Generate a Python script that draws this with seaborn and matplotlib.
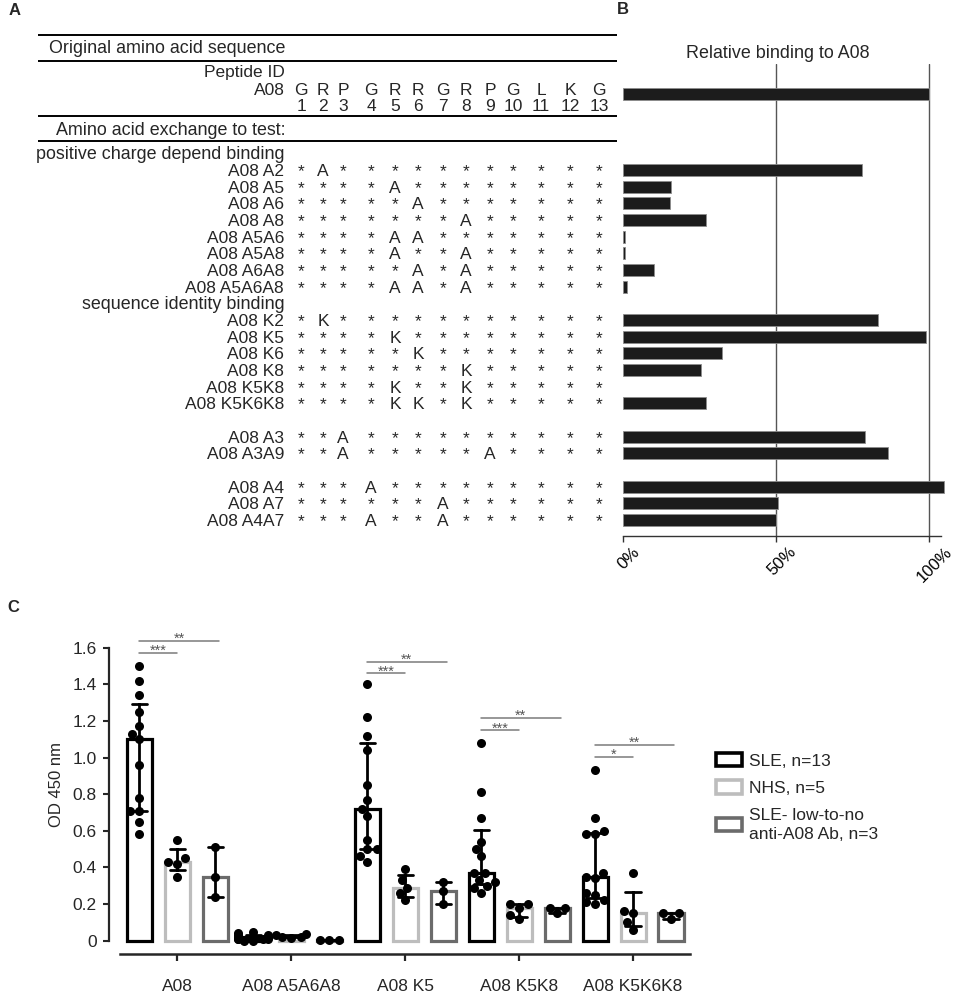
import re
import warnings
import numpy as np
import pandas as pd
import matplotlib
matplotlib.use("Agg")
import matplotlib.pyplot as plt
import matplotlib.transforms as mtransforms
from matplotlib.patches import Patch
import seaborn as sns

warnings.filterwarnings("ignore")

# ------------------------------------------------------------------ data
residues = ["G", "R", "P", "G", "R", "R", "G", "R", "P", "G", "L", "K", "G"]
reference_id = "A08"
reference_binding = 100.0

charge_ids = ["A08 A2", "A08 A5", "A08 A6", "A08 A8", "A08 A5A6", "A08 A5A8", "A08 A6A8", "A08 A5A6A8"]
charge_binding = [78.0, 15.7, 15.5, 27.0, 0.6, 0.6, 10.0, 1.2]
identity_ids = ["A08 K2", "A08 K5", "A08 K6", "A08 K8", "A08 K5K8", "A08 K5K6K8"]
identity_binding = [83.5, 99.0, 32.4, 25.5, np.nan, 27.3]
proline_ids = ["A08 A3", "A08 A3A9"]
proline_binding = [79.3, 86.8]
glycine_ids = ["A08 A4", "A08 A7", "A08 A4A7"]
glycine_binding = [105.0, 50.7, 49.9]
section_titles = ["positive charge depend binding", "sequence identity binding", "", ""]

antigens = ["A08", "A08 A5A6A8", "A08 K5", "A08 K5K8", "A08 K5K6K8"]
groups = ["SLE, n=13", "NHS, n=5", "SLE- low-to-no\nanti-A08 Ab, n=3"]
group_colors = ["#000000", "#bdbdbd", "#6b6b6b"]

sle_a08 = [1.50, 1.42, 1.34, 1.25, 1.17, 1.13, 1.10, 0.96, 0.78, 0.71, 0.71, 0.65, 0.58]
nhs_a08 = [0.55, 0.45, 0.43, 0.42, 0.35]
low_a08 = [0.51, 0.35, 0.24]
sle_a5a6a8 = [0.05, 0.04, 0.03, 0.03, 0.02, 0.02, 0.02, 0.01, 0.01, 0.01, 0.01, 0.00, 0.00]
nhs_a5a6a8 = [0.035, 0.03, 0.02, 0.02, 0.015]
low_a5a6a8 = [0.005, 0.005, 0.005]
sle_k5 = [1.40, 1.22, 1.12, 1.04, 0.85, 0.77, 0.72, 0.68, 0.55, 0.50, 0.50, 0.46, 0.43]
nhs_k5 = [0.39, 0.33, 0.29, 0.26, 0.22]
low_k5 = [0.32, 0.27, 0.20]
sle_k5k8 = [1.08, 0.81, 0.67, 0.54, 0.50, 0.46, 0.37, 0.37, 0.33, 0.32, 0.30, 0.29, 0.26]
nhs_k5k8 = [0.20, 0.20, 0.18, 0.14, 0.12]
low_k5k8 = [0.18, 0.18, 0.15]
sle_k5k6k8 = [0.93, 0.67, 0.60, 0.58, 0.58, 0.37, 0.35, 0.34, 0.26, 0.25, 0.22, 0.21, 0.20]
nhs_k5k6k8 = [0.37, 0.16, 0.15, 0.10, 0.06]
low_k5k6k8 = [0.15, 0.15, 0.12]

sig_antigen = ["A08", "A08", "A08 K5", "A08 K5", "A08 K5K8", "A08 K5K8", "A08 K5K6K8", "A08 K5K6K8"]
sig_target = [1, 2, 1, 2, 1, 2, 1, 2]
sig_height = [1.57, 1.637, 1.46, 1.524, 1.149, 1.215, 1.003, 1.069]
sig_label = ["***", "**", "***", "**", "***", "**", "*", "**"]

# ------------------------------------------------------------------ style
sns.set_style("ticks")
plt.rcParams["font.family"] = ["Liberation Sans", "DejaVu Sans"]
plt.rcParams["axes.linewidth"] = 1.0

W, H = 957, 996
fig = plt.figure(figsize=(W / 100, H / 100), dpi=100)

def fx(px):
    return px / W

def fy(py):
    return 1 - py / H

# ------------------------------------------------------------------ panel A (table, pixel coords)
axA = fig.add_axes([0, 0, 1, 1])
axA.set_xlim(0, W)
axA.set_ylim(H, 0)
axA.axis("off")

FS = 12.5
HFS = 12.9
BASE = 6  # half cap height in px -> baseline offset
col_x = [301, 323, 343, 371, 395, 418, 443, 466, 490, 513, 541, 570, 599]
label_right = 285
row0, row_step = 170.0, 16.67

def row_y(i):
    return row0 + row_step * i

def put(x, y, s, ha="center", **kw):
    axA.text(x, y + BASE, s, ha=ha, va="baseline", fontsize=kw.pop("fontsize", FS), **kw)

for yl in [35, 61, 116, 141]:
    axA.plot([38, 617], [yl, yl], color="black", lw=1.4, solid_capstyle="butt")

put(label_right, 47, "Original amino acid sequence", ha="right", fontsize=HFS)
put(label_right, 71, "Peptide ID", ha="right")
put(label_right, 89, reference_id, ha="right")
for k, r in enumerate(residues):
    put(col_x[k], 89, r)
    put(col_x[k], 105, str(k + 1))
put(label_right + 1, 129, "Amino acid exchange to test:", ha="right", fontsize=HFS)

blocks = [
    (charge_ids, charge_binding),
    (identity_ids, identity_binding),
    (proline_ids, proline_binding),
    (glycine_ids, glycine_binding),
]
bar_rows, bar_vals = [(94.2 - row0) / row_step], [reference_binding]
idx = -1
for (ids, vals), title in zip(blocks, section_titles):
    if title:
        put(label_right, row_y(idx), title, ha="right", fontsize=HFS)
    idx += 1
    for pid, val in zip(ids, vals):
        y = row_y(idx)
        put(label_right - 1, y, pid, ha="right")
        subs = {int(p): a for a, p in re.findall(r"([A-Z])(\d+)", pid.split()[1])}
        for k in range(len(residues)):
            put(col_x[k], y, subs.get(k + 1, "*"))
        if not np.isnan(val):
            bar_rows.append(idx)
            bar_vals.append(val)
        idx += 1

axA.text(15, 10, "A", fontsize=12, fontweight="bold", ha="center", va="center")
axA.text(623, 9, "B", fontsize=12, fontweight="bold", ha="center", va="center")
axA.text(13, 607, "C", fontsize=12, fontweight="bold", ha="center", va="center")
put(778, 52, "Relative binding to A08", fontsize=HFS)

# ------------------------------------------------------------------ panel B
top_px, bot_px = 64, 535.7
axB = fig.add_axes([fx(623), fy(bot_px), fx(941) - fx(623), (bot_px - top_px) / H])
dfB = pd.DataFrame({"row": bar_rows, "binding": bar_vals})
sns.barplot(data=dfB, x="binding", y="row", orient="h", native_scale=True, width=0.72,
            color="#1c1c1c", saturation=1, edgecolor="#8c8c8c", linewidth=0.6,
            errorbar=None, ax=axB)
for p in axB.patches:
    p.set_clip_on(False)
axB.set_xlim(0, 104)
axB.set_ylim((bot_px - row0) / row_step, (top_px - row0) / row_step)
for xv in [50, 100]:
    axB.axvline(xv, color="#555555", lw=1.0, zorder=0)
axB.set_yticks([])
axB.set_ylabel("")
axB.set_xlabel("")
for s in ["left", "right", "top"]:
    axB.spines[s].set_visible(False)
axB.spines["bottom"].set_color("#333333")
axB.set_xticks([0, 50, 100])
axB.set_xticklabels(["0%", "50%", "100%"], rotation=45, ha="center", fontsize=12)
axB.tick_params(axis="x", length=4, width=1, pad=2, colors="#333333", labelcolor="black")
shift = mtransforms.ScaledTranslation(6 / 100, 0, fig.dpi_scale_trans)
for lab in axB.get_xticklabels():
    lab.set_transform(lab.get_transform() + shift)

# ------------------------------------------------------------------ panel C
series = {
    ("A08", 0): sle_a08, ("A08", 1): nhs_a08, ("A08", 2): low_a08,
    ("A08 A5A6A8", 0): sle_a5a6a8, ("A08 A5A6A8", 1): nhs_a5a6a8, ("A08 A5A6A8", 2): low_a5a6a8,
    ("A08 K5", 0): sle_k5, ("A08 K5", 1): nhs_k5, ("A08 K5", 2): low_k5,
    ("A08 K5K8", 0): sle_k5k8, ("A08 K5K8", 1): nhs_k5k8, ("A08 K5K8", 2): low_k5k8,
    ("A08 K5K6K8", 0): sle_k5k6k8, ("A08 K5K6K8", 1): nhs_k5k6k8, ("A08 K5K6K8", 2): low_k5k6k8,
}
hue_offset = [-1 / 3, 0.0, 1 / 3]
recs = []
for (ag, g), vals in series.items():
    for v in vals:
        recs.append({"xpos": antigens.index(ag) + hue_offset[g], "group": groups[g], "od": v})
dfC = pd.DataFrame(recs)

px_per_unit_y = (940.7 - 647.7) / 1.6
ylo, yhi = -0.04, 1.75
c_bot = 940.7 - ylo * px_per_unit_y
c_top = 940.7 - yhi * px_per_unit_y
axC = fig.add_axes([fx(109), fy(c_bot), fx(690) - fx(109), (c_bot - c_top) / H])


def iqr(v):
    return (np.percentile(v, 25, method="weibull"), np.percentile(v, 75, method="weibull"))


sns.barplot(data=dfC, x="xpos", y="od", hue="group", hue_order=groups, palette=group_colors,
            native_scale=True, dodge=False, fill=False, width=0.66, linewidth=2.3,
            estimator="median", errorbar=iqr, capsize=0.4,
            err_kws={"color": "black", "linewidth": 2.0}, legend=False, ax=axC)
sns.swarmplot(data=dfC, x="xpos", y="od", native_scale=True, color="black", size=6.5,
              linewidth=0, ax=axC, zorder=5)
for coll in axC.collections:
    coll.set_clip_on(False)

for ag, tgt, h, lab in zip(sig_antigen, sig_target, sig_height, sig_label):
    i = antigens.index(ag)
    x0 = i + hue_offset[0]
    x1 = i + hue_offset[tgt] + (0.03 if tgt == 2 else 0.0)
    axC.plot([x0, x1], [h, h], color="#7a7a7a", lw=1.1, clip_on=False)
    t = axC.text((x0 + x1) / 2, h, lab, ha="center", va="baseline", fontsize=10.5,
                 color="#555555", clip_on=False)
    t.set_transform(axC.transData + mtransforms.ScaledTranslation(0, -2 / 100, fig.dpi_scale_trans))

axC.set_xlim(-0.6, 4.5)
axC.set_ylim(ylo, yhi)
axC.spines["top"].set_visible(False)
axC.spines["right"].set_visible(False)
axC.spines["left"].set_bounds(0, 1.6)
axC.spines["left"].set_linewidth(1.6)
axC.spines["bottom"].set_bounds(-0.5, 4.5)
axC.spines["bottom"].set_linewidth(1.8)
axC.spines["bottom"].set_position(("outward", 4.3))
yt = np.round(np.arange(0, 1.61, 0.2), 1)
axC.set_yticks(yt)
axC.set_yticklabels(["0"] + [f"{v:.1f}" for v in yt[1:]], fontsize=12.5)
axC.set_xticks(range(len(antigens)))
axC.set_xticklabels(antigens, fontsize=12.5)
axC.tick_params(axis="y", length=4, width=1.5, pad=5)
axC.tick_params(axis="x", length=5, width=1.6, pad=13)
axC.set_xlabel("")
axC.set_ylabel("OD 450 nm", fontsize=12, labelpad=6)

handles = [Patch(facecolor="none", edgecolor=c, linewidth=2.6) for c in group_colors]
leg = fig.legend(handles, groups, loc="upper left", bbox_to_anchor=(fx(716), fy(753)),
                 frameon=False, fontsize=12.5, handlelength=1.5, handleheight=0.8,
                 handletextpad=0.4, labelspacing=0.68, borderpad=0, borderaxespad=0)
for t in leg.get_texts():
    t.set_linespacing(1.3)

fig.savefig("out.png", dpi=100)
